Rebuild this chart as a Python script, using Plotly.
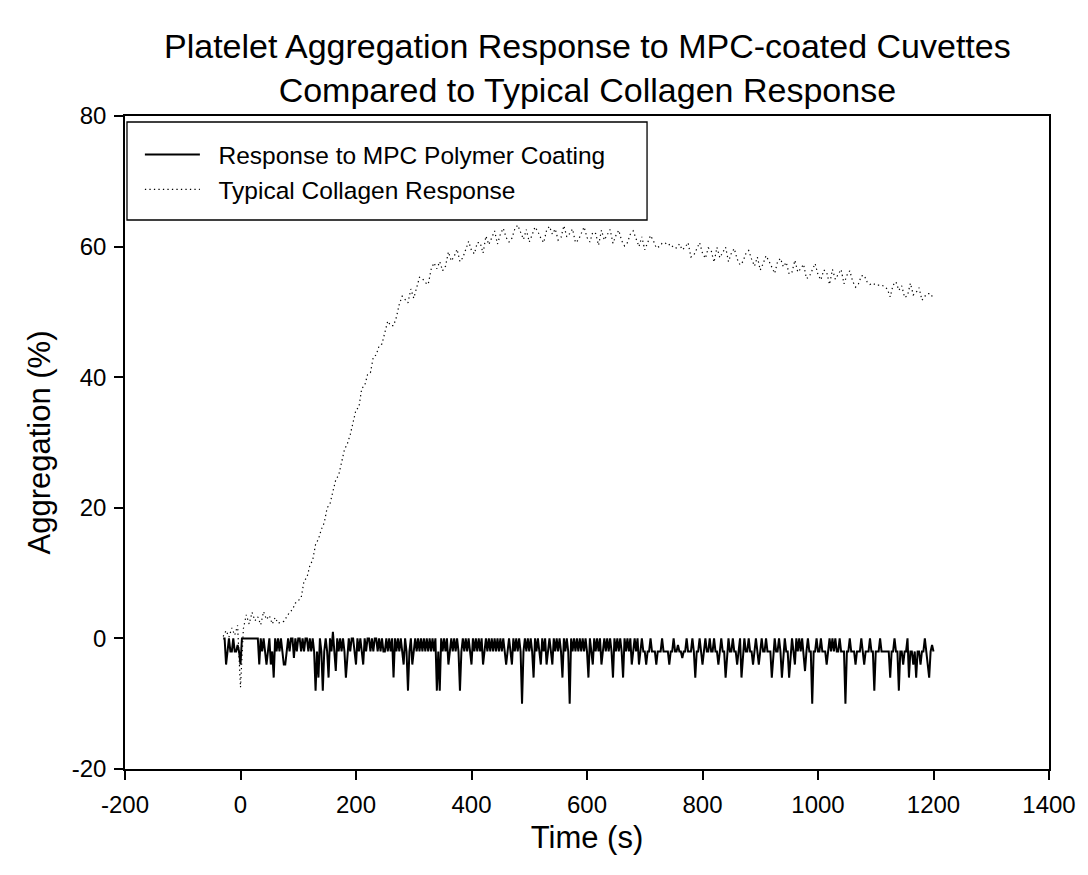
import plotly.graph_objects as go

# ---- data ----
# MPC trace sampled every 2.5 s from -30 s to 1200 s
mpc_time = [-30 + 2.5 * i for i in range(493)]
mpc_response = [
    # -30 .. 17.5
    0, 0, -4, -2, 0, -2, -2, 0, -2, -2, -1, -2, -4, 0, 0, 0, 0, 0, 0, 0,
    # 20 .. 67.5
    0, 0, 0, 0, 0, -4, 0, -2, 0, -2, -4, -2, 0, -4, -2, -6, 0, -2, 0, -2,
    # 70 .. 117.5
    0, -2, -4, -4, -2, 0, -2, 0, 0, -3, 0, -2, 0, 0, -2, 0, -2, 0, 0, -2,
    # 120 .. 167.5
    0, -2, 0, -2, -8, -2, -6, 0, -2, -8, -2, 0, -2, -6, 0, -2, 1, -2, -5, 0,
    # 170 .. 217.5
    -2, 0, -2, 0, -2, -6, -2, 0, -2, 0, 0, -2, -4, 0, -2, 0, -2, -4, 0, -2,
    # 220 .. 267.5
    0, 0, -2, 0, -2, 0, 0, -2, 0, -2, 0, -2, -2, 0, -2, 0, -2, 0, -6, 0,
    # 270 .. 317.5
    -2, 0, -2, 0, -2, -4, 0, -2, -8, -2, 0, -4, -2, 0, -2, 0, -2, 0, -2, 0,
    # 320 .. 367.5
    -2, 0, -2, 0, -2, 0, -2, 0, -8, -2, -8, 0, -2, 0, -2, 0, -4, -2, 0, -2,
    # 370 .. 417.5
    0, -2, 0, -2, -8, -2, 0, -2, 0, -2, 0, -2, -4, 0, -2, 0, -2, 0, -2, 0,
    # 420 .. 467.5
    -4, -2, 0, -2, 0, -2, 0, -2, 0, -2, 0, -2, 0, -2, 0, -2, -4, -2, 0, -2,
    # 470 .. 517.5
    -4, 0, -2, 0, -2, 0, -2, -10, -2, 0, -2, 0, -2, 0, -2, -6, 0, -2, 0, -2,
    # 520 .. 567.5
    -4, 0, -2, 0, -4, -2, 0, -2, -4, 0, -2, 0, -2, 0, -2, -6, 0, -2, 0, -2,
    # 570 .. 617.5
    -10, 0, -2, 0, -2, 0, -2, 0, -2, 0, -2, 0, -2, -6, 0, -2, -4, 0, -2, 0,
    # 620 .. 667.5
    -2, 0, -4, -2, 0, -2, 0, -2, 0, -2, -6, 0, -2, 0, -2, 0, -2, -6, 0, -2,
    # 670 .. 717.5
    0, -2, 0, -4, -2, 0, -2, 0, -4, -2, 0, -2, -2, -4, -2, -2, 0, -2, -2, -2,
    # 720 .. 767.5
    -4, -2, -2, -2, 0, -2, -2, -2, -2, -4, -2, -2, 0, -2, -2, -1, -2, -2, -3, -2,
    # 770 .. 817.5
    -2, 0, -2, -2, -2, 0, -2, -6, -2, -2, 0, -2, -4, -2, 0, -2, -2, 0, -2, -2,
    # 820 .. 867.5
    0, -2, -2, -4, -2, 0, -2, -2, -6, -2, 0, -2, -2, 0, -2, -2, -4, -2, 0, -6,
    # 870 .. 917.5
    -2, 0, -2, -2, 0, -2, -2, -4, -2, 0, -2, -4, -2, 0, -2, -2, 0, -2, -2, -2,
    # 920 .. 967.5
    -6, -2, 0, -2, -2, 0, -2, -6, -2, 0, -2, -2, -6, -2, 0, -2, -4, 0, -2, 0,
    # 970 .. 1017.5
    -2, 0, -2, -5, -2, 0, -2, -2, -10, -2, -2, 0, -2, -2, 0, -2, -2, -2, -4, -2,
    # 1020 .. 1067.5
    0, -2, 0, -2, 0, -2, -2, 0, -2, -2, -2, -10, -2, -2, 0, -2, -2, -2, -4, -2,
    # 1070 .. 1117.5
    -2, -2, 0, -2, -4, -2, -2, -2, 0, -2, -2, -8, -2, -2, -2, 0, -2, -2, -2, -2,
    # 1120 .. 1167.5
    -2, -2, -6, -2, -2, 0, -2, -2, -8, -2, -2, -4, -2, -2, 0, -6, -2, -2, -4, -2,
    # 1170 .. 1200
    -6, -2, -2, -4, -2, -2, 0, -2, -4, -6, -2, -1, -2,
]

# Collagen trace sampled every 5 s from -30 s to 1200 s
collagen_time = list(range(-30, 1205, 5))
collagen_response = [
    # -30 .. -5
    0.3, 1.2, 0.2, 1.6, 0.5, 2.0,
    # 0 .. 95
    -7.5, 1.5, 3.6, 2.2, 4.0, 2.7, 3.3, 2.1, 4.1, 2.9, 3.5, 2.2, 3.2, 2.3, 2.5, 2.6, 3.3, 4.0, 4.4, 5.4,
    # 100 .. 195
    5.8, 6.2, 8.8, 9.3, 11.1, 12.0, 14.4, 15.2, 16.7, 17.7, 20.0, 20.6, 22.5, 24.3, 25.0, 27.2, 28.9, 29.8, 31.2, 33.1,
    # 200 .. 245
    35.0, 35.4, 38.3, 38.7, 40.4, 40.7, 43.1, 43.4, 44.8, 45.1,
    # 250 .. 445
    46.9, 48.6, 47.9, 47.9, 49.2, 51.2, 52.4, 51.9, 51.4, 53.5, 52.1, 53.7, 55.3, 55.1, 54.5, 54.2, 56.5, 57.5, 56.6, 57.7,
    56.3, 57.0, 59.2, 57.8, 58.5, 59.6, 57.7, 58.3, 59.5, 60.8, 59.4, 58.9, 60.6, 60.6, 59.0, 61.6, 60.3, 61.3, 62.4, 60.4,
    # 450 .. 645
    61.9, 62.8, 61.4, 60.7, 61.3, 62.7, 63.3, 62.2, 61.1, 62.6, 60.7, 61.8, 63.0, 62.3, 61.3, 60.6, 62.5, 63.1, 61.9, 62.7,
    61.0, 61.4, 63.2, 61.5, 62.0, 62.7, 60.6, 61.0, 61.9, 63.0, 61.4, 60.7, 62.2, 62.0, 60.2, 62.5, 61.0, 61.8, 62.6, 60.5,
    # 650 .. 845
    61.7, 62.5, 60.9, 60.1, 60.6, 61.9, 62.4, 61.2, 60.0, 61.5, 59.5, 60.6, 61.7, 60.9, 59.8, 60.0, 60.5, 60.6, 60.2, 60.4,
    59.8, 59.8, 60.4, 59.5, 59.9, 60.6, 58.4, 58.7, 59.6, 60.6, 59.0, 58.2, 59.8, 59.4, 57.6, 59.9, 58.3, 59.0, 59.9, 57.7,
    # 850 .. 1045
    59.0, 59.7, 58.1, 57.2, 57.7, 58.9, 59.4, 58.1, 57.0, 58.4, 56.4, 57.4, 58.6, 57.8, 56.7, 55.9, 57.7, 58.2, 56.9, 57.6,
    55.8, 56.1, 57.9, 56.1, 56.6, 57.3, 55.1, 55.4, 56.4, 57.4, 55.7, 54.9, 56.4, 56.1, 54.2, 56.5, 55.0, 55.7, 56.5, 54.3,
    # 1050 .. 1200
    55.6, 56.3, 54.7, 53.8, 54.3, 55.5, 55.6, 54.6, 54.2, 54.4, 54.1, 54.1, 54.1, 53.9, 53.5, 52.3, 54.1, 54.6, 53.3, 54.0,
    52.2, 52.5, 54.4, 52.6, 53.0, 53.7, 51.8, 52.4, 52.8, 52.8, 52.0,
]

assert len(mpc_time) == len(mpc_response)
assert len(collagen_time) == len(collagen_response)

x_ticks = [-200, 0, 200, 400, 600, 800, 1000, 1200, 1400]
x_tick_labels = ["-200", "0", "200", "400", "600", "800", "1000", "1200", "1400"]
y_ticks = [-20, 0, 20, 40, 60, 80]
y_tick_labels = ["-20", "0", "20", "40", "60", "80"]

title_lines = ["Platelet Aggregation Response to MPC-coated Cuvettes",
               "Compared to Typical Collagen Response"]
series_names = ["Response to MPC Polymer Coating", "Typical Collagen Response"]

FONT = "Liberation Sans, Arial, sans-serif"
NBSP = "\u00a0"

# plot area in pixels
L, R, T, B = 125, 1056, 116, 769
PW, PH = R - L, B - T

fig = go.Figure()
fig.add_trace(go.Scatter(
    x=mpc_time, y=mpc_response, mode="lines",
    name=NBSP * 2 + series_names[0],
    line=dict(color="black", width=2),
))
fig.add_trace(go.Scatter(
    x=collagen_time, y=collagen_response, mode="lines",
    name=NBSP * 2 + series_names[1],
    line=dict(color="black", width=1.2, dash="1.3px,3.2px"),
))

axis_common = dict(
    showline=True, linecolor="black", linewidth=1.5, mirror=True,
    ticks="outside", ticklen=9, tickwidth=1.5, tickcolor="black",
    showgrid=False, zeroline=False,
    tickfont=dict(family=FONT, size=24, color="black"),
)

annotations = [
    dict(text="<br>".join(title_lines), xref="paper", yref="paper",
         x=0.5, y=(B - 68) / PH, xanchor="center", yanchor="middle",
         showarrow=False, align="center",
         font=dict(family=FONT, size=34, color="black")),
]

fig.update_layout(
    width=1088, height=875,
    margin=dict(l=L, r=1088 - R, t=T, b=875 - B),
    paper_bgcolor="white", plot_bgcolor="white",
    font=dict(family=FONT, color="black"),
    xaxis=dict(range=[-200, 1400], tickvals=x_ticks, ticktext=x_tick_labels,
               ticklabelstandoff=4, **axis_common,
               title=dict(text="Time (s)", font=dict(family=FONT, size=31), standoff=10)),
    yaxis=dict(range=[-20, 80], tickvals=y_ticks, ticktext=y_tick_labels,
               ticklabelstandoff=3, **axis_common,
               title=dict(text="Aggregation (%)", font=dict(family=FONT, size=31), standoff=12)),
    showlegend=True,
    legend=dict(
        x=(140 - L) / PW, y=(B - 132) / PH, xanchor="left", yanchor="top",
        bgcolor="rgba(0,0,0,0)", borderwidth=0,
        font=dict(family=FONT, size=24.5, color="black"),
        itemwidth=55, tracegroupgap=0,
    ),
    annotations=annotations,
    shapes=[dict(
        type="rect", xref="paper", yref="paper",
        x0=(127 - L) / PW, x1=(651 - L) / PW,
        y0=(B - 220) / PH, y1=(B - 122) / PH,
        line=dict(color="black", width=1.3), fillcolor="rgba(0,0,0,0)",
    )],
)

fig.write_html("out.html")
